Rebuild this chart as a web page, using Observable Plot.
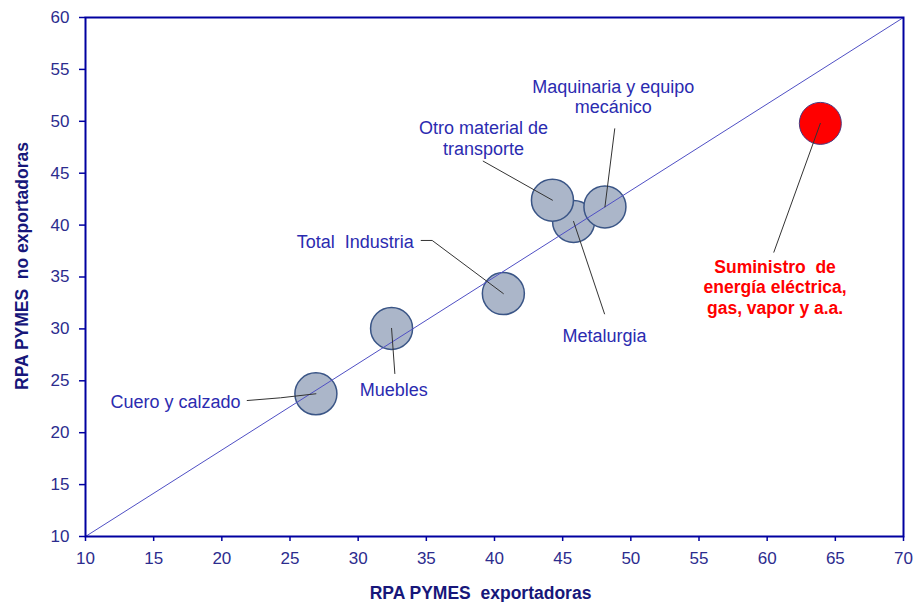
<!DOCTYPE html>
<html><head><meta charset="utf-8">
<script src="https://cdn.jsdelivr.net/npm/d3@7"></script>
<script src="https://cdn.jsdelivr.net/npm/@observablehq/plot@0.6"></script>
<style>body{margin:0;background:#fff} svg{display:block}</style>
</head><body><div id="chart"></div>
<script>
// ---- data ----
const sectors = ["Cuero y calzado", "Muebles", "Total Industria", "Metalurgia", "Otro material de transporte", "Maquinaria y equipo mecánico", "Suministro de energía eléctrica, gas, vapor y a.a."];
const exportadoras = [26.9, 32.45, 40.65, 45.8, 44.25, 48.1, 63.9];
const noExportadoras = [23.75, 30.05, 33.4, 40.35, 42.4, 41.75, 49.8];
const highlight = [false, false, false, false, false, false, true];
const labelText = ["Cuero y calzado", "Muebles", "Total\u00a0 Industria", "Metalurgia", "Otro material de\ntransporte", "Maquinaria y equipo\nmecánico", "Suministro\u00a0 de\nenergía eléctrica,\ngas, vapor y a.a."];
const labelX = [21.37, 32.61, 34.08, 48.07, 39.19, 48.71, 60.58];
const labelY = [22.40, 23.58, 37.81, 28.72, 46.75, 50.78, 31.48];
const labelAnchor = ["end", "middle", "end", "middle", "middle", "middle", "middle"];
const leaderX = [[21.86, 24.30], [32.69], [34.62, 35.43], [48.07], [39.17], [48.82], [60.49]];
const leaderY = [[23.10, 23.36], [25.70], [38.52, 38.52], [31.45], [46.16], [49.28], [37.39]];
const xTicks = [10, 15, 20, 25, 30, 35, 40, 45, 50, 55, 60, 65, 70];
const yTicks = [10, 15, 20, 25, 30, 35, 40, 45, 50, 55, 60];
const diagonal = [[10, 10], [70, 60]];
const xTitle = "RPA PYMES\u00a0 exportadoras";
const yTitle = "RPA PYMES\u00a0 no exportadoras";

// ---- tables ----
const points = sectors.map((s, i) => ({
  s, x: exportadoras[i], y: noExportadoras[i], hi: highlight[i],
  label: labelText[i], lx: labelX[i], ly: labelY[i], anchor: labelAnchor[i]
}));
const leaders = points.flatMap((p, i) => [
  ...leaderX[i].map((x, j) => ({s: p.s, x, y: leaderY[i][j]})),
  {s: p.s, x: p.x, y: p.y}
]);

const axisColor = "#0000a0";
const tickText = "#2c2c8e";
const labelColor = "#2b2bb0";
const titleColor = "#17177a";
const font = "'Liberation Sans', Arial, sans-serif";

const chart = Plot.plot({
  width: 915,
  height: 602,
  marginLeft: 85,
  marginRight: 12,
  marginTop: 17,
  marginBottom: 66,
  style: {fontFamily: font, fontSize: "17px", background: "#fff"},
  x: {domain: [10, 70]},
  y: {domain: [10, 60]},
  marks: [
    Plot.dot(points.filter(d => !d.hi), {x: "x", y: "y", r: 21, fill: "#abb6c9", stroke: "#3a5586", strokeWidth: 1.5}),
    Plot.dot(points.filter(d => d.hi), {x: "x", y: "y", r: 21, fill: "#ff0000", stroke: "#4a3a80", strokeWidth: 1}),
    Plot.line(diagonal, {x: d => d[0], y: d => d[1], stroke: "#4f4fc4", strokeWidth: 1}),
    Plot.line(leaders, {x: "x", y: "y", z: "s", stroke: "#333333", strokeWidth: 1}),
    Plot.text(points.filter(d => !d.hi && d.anchor === "end"), {x: "lx", y: "ly", text: "label", textAnchor: "end", lineAnchor: "bottom", lineHeight: 1.15, fill: labelColor, fontSize: 18}),
    Plot.text(points.filter(d => !d.hi && d.anchor === "middle"), {x: "lx", y: "ly", text: "label", textAnchor: "middle", lineAnchor: "bottom", lineHeight: 1.15, fill: labelColor, fontSize: 18}),
    Plot.text(points.filter(d => d.hi), {x: "lx", y: "ly", text: "label", textAnchor: "middle", lineAnchor: "bottom", lineHeight: 1.15, fill: "#ff0000", fontSize: 17.5, fontWeight: "bold"}),
    Plot.frame({stroke: axisColor, strokeWidth: 2}),
    Plot.axisX(xTicks, {tickSize: 5, tickPadding: 10, stroke: axisColor, strokeWidth: 1.5, fill: tickText, fontSize: 17, label: null}),
    Plot.axisY(yTicks, {tickSize: 6, tickPadding: 10, stroke: axisColor, strokeWidth: 1.5, fill: tickText, fontSize: 17, label: null}),
    Plot.text([xTitle], {text: d => d, frameAnchor: "bottom", textAnchor: "middle", lineAnchor: "bottom", dy: 62, dx: -14, fill: titleColor, fontSize: 17.5, fontWeight: "bold"}),
    Plot.text([yTitle], {text: d => d, frameAnchor: "left", textAnchor: "middle", rotate: -90, lineAnchor: "bottom", dx: -58, dy: -11, fill: titleColor, fontSize: 17.5, fontWeight: "bold"})
  ]
});
document.getElementById("chart").appendChild(chart);
</script>
</body></html>
